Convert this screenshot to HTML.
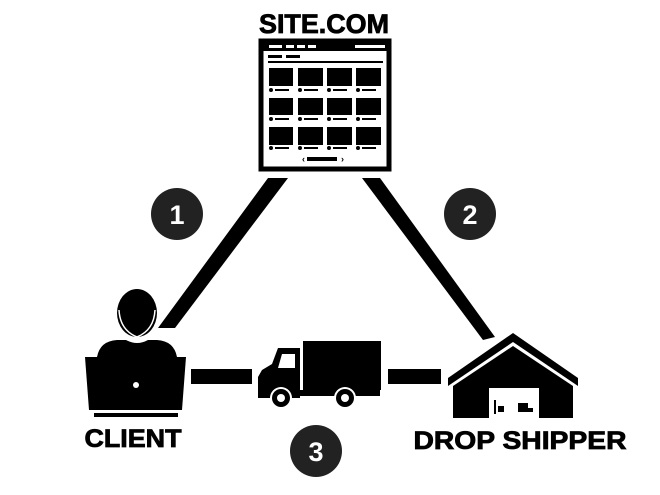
<!DOCTYPE html>
<html><head><style>body{margin:0;background:#fff}svg{display:block}</style></head><body>
<svg width="660" height="495" viewBox="0 0 660 495" xmlns="http://www.w3.org/2000/svg" font-family="'Liberation Sans',sans-serif" font-weight="bold">
<rect width="660" height="495" fill="#fff"/>
<text x="324" y="33" text-anchor="middle" font-size="27" fill="#000" stroke="#000" stroke-width="0.8" textLength="130" lengthAdjust="spacingAndGlyphs">SITE.COM</text>
<rect x="261" y="41" width="128" height="128" fill="#fff" stroke="#000" stroke-width="5"/>
<rect x="259" y="42" width="132" height="9" fill="#000"/>
<g fill="#fff"><rect x="269" y="45" width="13" height="3"/><rect x="286" y="45" width="8" height="3"/><rect x="297" y="45" width="8" height="3"/><rect x="308" y="45" width="8" height="3"/><rect x="355" y="45" width="30" height="3"/></g>
<g fill="#000"><rect x="268" y="55" width="14" height="3"/><rect x="286" y="55" width="14" height="3"/><rect x="268" y="61" width="115" height="2"/></g>
<g fill="#000">
<rect x="269" y="68" width="24" height="18"/><rect x="298" y="68" width="25" height="18"/><rect x="327" y="68" width="25" height="18"/><rect x="356" y="68" width="25" height="18"/>
<rect x="269" y="98" width="24" height="17"/><rect x="298" y="98" width="25" height="17"/><rect x="327" y="98" width="25" height="17"/><rect x="356" y="98" width="25" height="17"/>
<rect x="269" y="127" width="24" height="18"/><rect x="298" y="127" width="25" height="18"/><rect x="327" y="127" width="25" height="18"/><rect x="356" y="127" width="25" height="18"/>
<g id="d"><circle cx="271" cy="90" r="2"/><rect x="275" y="89" width="14" height="2"/></g>
<use href="#d" x="29"/><use href="#d" x="58"/><use href="#d" x="87"/>
<use href="#d" y="29"/><use href="#d" x="29" y="29"/><use href="#d" x="58" y="29"/><use href="#d" x="87" y="29"/>
<use href="#d" y="58"/><use href="#d" x="29" y="58"/><use href="#d" x="58" y="58"/><use href="#d" x="87" y="58"/>
<rect x="307" y="157" width="30" height="4"/>
</g>
<text x="302" y="162" font-size="9" fill="#000">‹</text><text x="341" y="162" font-size="9" fill="#000">›</text>
<polygon points="268,178 288,178 175,328 158,328" fill="#000"/>
<polygon points="362,178 380,178 495,337 483,340" fill="#000"/>
<circle cx="177" cy="214" r="26" fill="#222"/><text x="177" y="224" text-anchor="middle" font-size="27" fill="#fff">1</text>
<circle cx="470" cy="214" r="26" fill="#222"/><text x="470" y="224" text-anchor="middle" font-size="27" fill="#fff">2</text>
<circle cx="316" cy="451" r="26" fill="#222"/><text x="316" y="461" text-anchor="middle" font-size="27" fill="#fff">3</text>
<!-- client -->
<ellipse cx="137" cy="313" rx="20" ry="24" fill="#000"/>
<path d="M119 310 Q120 330 137 337 Q154 330 155 310" fill="none" stroke="#fff" stroke-width="1.5"/>
<path d="M97 357 Q100 341 117 340 L126 340 Q137 346 148 340 L157 340 Q174 341 177 357 Z" fill="#000"/>
<path d="M85 357 L186 357 L182 410 L89 410 Z" fill="#000"/>
<circle cx="136" cy="385" r="3" fill="#fff"/>
<rect x="94" y="413" width="84" height="4" fill="#000"/>
<text x="133" y="447" text-anchor="middle" font-size="25" fill="#000" stroke="#000" stroke-width="0.8" textLength="97" lengthAdjust="spacingAndGlyphs">CLIENT</text>
<rect x="191" y="369" width="61" height="15" fill="#000"/>
<rect x="388" y="369" width="53" height="15" fill="#000"/>
<!-- truck -->
<rect x="303" y="341" width="78" height="49" fill="#000"/>
<path d="M258 377 L262 370 L272 364 L278 348 L300 348 L300 398 L258 398 Z" fill="#000"/>
<path d="M282 354 L295 354 L295 368 L278 368 Z" fill="#fff"/>
<rect x="298" y="390" width="82" height="6" fill="#000"/>
<circle cx="281" cy="398" r="11" fill="#fff"/><circle cx="281" cy="398" r="9" fill="#000"/><circle cx="281" cy="398" r="4" fill="#fff"/>
<circle cx="345" cy="398" r="11" fill="#fff"/><circle cx="345" cy="398" r="9" fill="#000"/><circle cx="345" cy="398" r="4" fill="#fff"/>
<!-- house -->
<polygon points="513,333 578,378 578,386 513,342 448,386 448,378" fill="#000"/>
<polygon points="513,346 573,386 573,418 453,418 453,386" fill="#000"/>
<rect x="489" y="388" width="50" height="30" fill="#fff"/>
<rect x="490" y="386" width="48" height="2" fill="#000"/>
<g fill="#000"><rect x="494" y="400" width="2" height="14"/><rect x="498" y="406" width="6" height="6"/><rect x="518" y="403" width="10" height="9"/><rect x="528" y="408" width="5" height="4"/></g>
<text x="520" y="449" text-anchor="middle" font-size="25" fill="#000" stroke="#000" stroke-width="0.8" textLength="213" lengthAdjust="spacingAndGlyphs">DROP  SHIPPER</text>
</svg>
</body></html>
